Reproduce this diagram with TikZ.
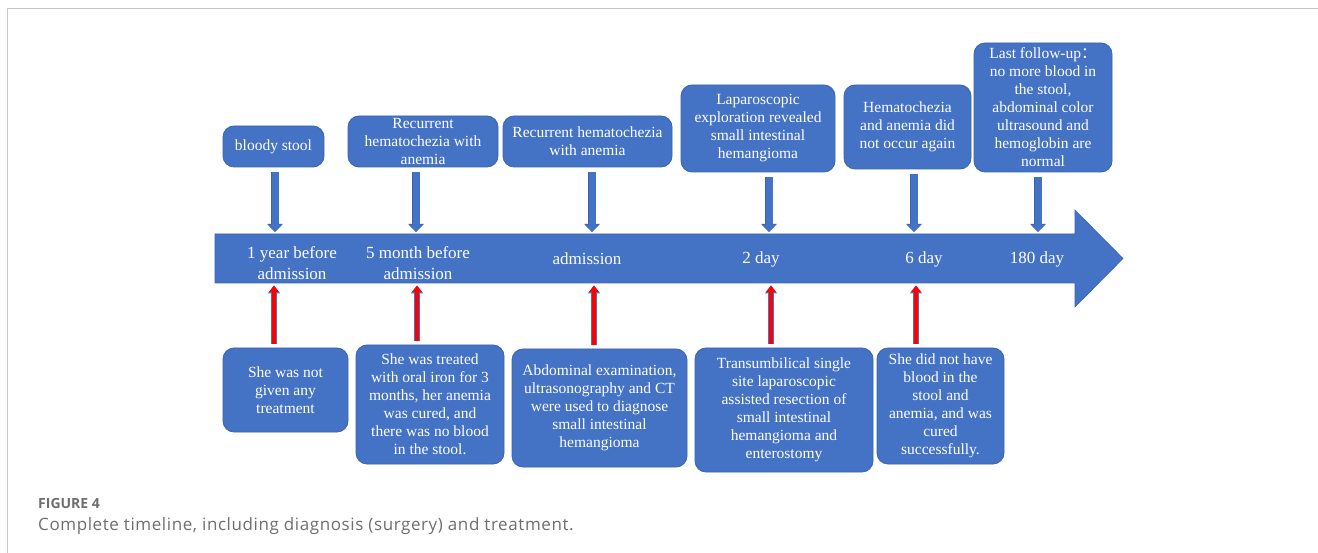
\documentclass[tikz,border=0pt]{standalone}
\usepackage{fontspec}
\setmainfont{Liberation Serif}
\newfontfamily\capfont{Open Sans}
\newfontfamily\capfontwide[LetterSpace=3.5]{Open Sans}
\newfontfamily\cjkfont{Noto Sans CJK SC}
\usetikzlibrary{arrows.meta}
\definecolor{boxblue}{HTML}{4472C4}
\definecolor{boxedge}{HTML}{3A64AE}
\definecolor{arrred}{HTML}{FF0000}
\definecolor{framegray}{HTML}{C8C8C8}
\definecolor{capgray}{HTML}{6E6E6E}
\begin{document}
\begin{tikzpicture}[x=1pt,y=-1pt,
  box/.style={draw=boxedge, line width=0.8pt, fill=boxblue, rounded corners=11pt,
    text=white, align=center, inner sep=0pt, font=\fontsize{15.5}{18}\selectfont},
  tlabel/.style={text=white, align=center, inner sep=0pt, font=\fontsize{17}{20.5}\selectfont},
  downarrow/.style={draw=boxblue, line width=7pt, shorten <=5pt,
    -{Triangle[width=13pt,length=7pt]},
    preaction={draw=boxedge, line width=8pt, -{Triangle[width=15pt,length=8pt]}}},
  uparrow/.style={draw=arrred, line width=4.5pt, shorten <=4pt,
    -{Triangle[width=9.5pt,length=6.5pt]},
    preaction={draw=boxblue, line width=6pt, -{Triangle[width=12pt,length=8pt]}}},
  capstyle/.style={anchor=base west, inner sep=0pt, text=capgray},
]
\useasboundingbox (0,0) rectangle (1318,553);
% frame
\draw[framegray, line width=1pt] (7,553) -- (7,9) -- (1318,9);

% timeline block arrow
\draw[boxedge, line width=0.6pt, fill=boxblue]
  (215,234) -- (1075,234) -- (1075,210) -- (1123,258.5) -- (1075,307)
  -- (1075,283) -- (215,283) -- cycle;

% timeline labels
\node[tlabel] (l1) at (292,263) {1 year before\\admission};
\node[tlabel] (l2) at (418,263) {5 month before\\admission};
\node[tlabel] (l3) at (587,259) {admission};
\node[tlabel] (l4) at (761,259) {2 day};
\node[tlabel] (l5) at (924,259) {6 day};
\node[tlabel] (l6) at (1037,259) {180 day};

% top boxes
\node[box, minimum width=101pt, minimum height=41pt] (t1) at (273.5,146.5) {bloody stool};
\node[box, minimum width=150pt, minimum height=51pt] (t2) at (423,141.5) {Recurrent\\hematochezia with\\anemia};
\node[box, minimum width=169pt, minimum height=51pt] (t3) at (587.5,141.5) {Recurrent hematochezia\\with anemia};
\node[box, minimum width=154pt, minimum height=87pt] (t4) at (758,128.5) {Laparoscopic\\exploration revealed\\small intestinal\\hemangioma};
\node[box, minimum width=127pt, minimum height=84pt] (t5) at (907.5,127) {Hematochezia\\and anemia did\\not occur again};
\node[box, minimum width=138pt, minimum height=129pt] (t6) at (1043,107.5) {Last follow-up{\cjkfont ：}\\no more blood in\\the stool,\\abdominal color\\ultrasound and\\hemoglobin are\\normal};

% bottom boxes
\node[box, minimum width=125pt, minimum height=84pt] (b1) at (285.5,390) {She was not\\given any\\treatment};
\node[box, minimum width=148pt, minimum height=119pt] (b2) at (430,404.5) {She was treated\\with oral iron for 3\\months, her anemia\\was cured, and\\there was no blood\\in the stool.};
\node[box, minimum width=175pt, minimum height=118pt] (b3) at (599.5,408) {Abdominal examination,\\ultrasonography and CT\\were used to diagnose\\small intestinal\\hemangioma};
\node[box, minimum width=178pt, minimum height=124pt] (b4) at (784,410) {Transumbilical single\\site laparoscopic\\assisted resection of\\small intestinal\\hemangioma and\\enterostomy};
\node[box, minimum width=127pt, minimum height=116pt] (b5) at (940.5,406) {She did not have\\blood in the\\stool and\\anemia, and was\\cured\\successfully.};

% arrow end points on the timeline
\coordinate (d1) at (275,232);
\coordinate (d2) at (416,232);
\coordinate (d3) at (592,232);
\coordinate (d4) at (769,232);
\coordinate (d5) at (914,232);
\coordinate (d6) at (1038,232);
\coordinate (u1) at (274,285.5);
\coordinate (u2) at (417,285.5);
\coordinate (u3) at (594,285.5);
\coordinate (u4) at (771,285.5);
\coordinate (u5) at (916,285.5);

% down arrows
\draw[downarrow] (t1.south -| d1) -- (d1);
\draw[downarrow] (t2.south -| d2) -- (d2);
\draw[downarrow] (t3.south -| d3) -- (d3);
\draw[downarrow] (t4.south -| d4) -- (d4);
\draw[downarrow] (t5.south -| d5) -- (d5);
\draw[downarrow] (t6.south -| d6) -- (d6);

% up arrows
\draw[uparrow] (b1.north -| u1) -- (u1);
\draw[uparrow] (b2.north -| u2) -- (u2);
\draw[uparrow] (b3.north -| u3) -- (u3);
\draw[uparrow] (b4.north -| u4) -- (u4);
\draw[uparrow] (b5.north -| u5) -- (u5);

% caption
\node[capstyle, font=\capfont\bfseries\fontsize{14}{16}\selectfont] (fig) at (38,508) {FIGURE 4};
\node[capstyle, font=\capfontwide\fontsize{17}{20}\selectfont] (cap) at (38,530) {Complete timeline, including diagnosis (surgery) and treatment.};
\end{tikzpicture}
\end{document}
